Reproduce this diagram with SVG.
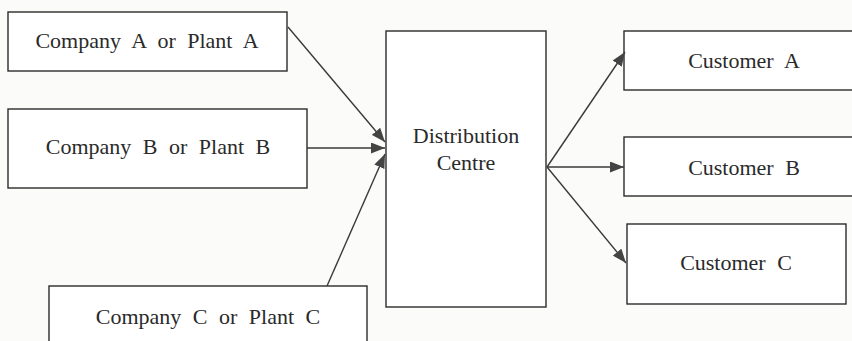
<svg xmlns="http://www.w3.org/2000/svg" width="852" height="341" viewBox="0 0 852 341">
  <style>
    .box { fill: #ffffff; stroke: #2b2b2b; stroke-width: 1.4; }
    .lbl { font-family: "Liberation Serif", "Times New Roman", serif; font-size: 22px; fill: #2a2a2a; text-anchor: middle; word-spacing: 6px; }
    .edge { stroke: #3a3a3a; stroke-width: 1.4; fill: none; marker-end: url(#head); }
  </style>
  <defs>
    <marker id="head" viewBox="0 0 14 11" refX="14" refY="5.5" markerWidth="14" markerHeight="11" markerUnits="userSpaceOnUse" orient="auto">
      <path d="M0,0 L14,5.5 L0,11 Z" fill="#444"/>
    </marker>
  </defs>
  <rect width="852" height="341" fill="#fbfbf9"/>

  <g id="company-a">
    <rect class="box" x="8" y="12" width="279" height="59"/>
    <text class="lbl" x="147" y="48">Company A or Plant A</text>
  </g>
  <g id="company-b">
    <rect class="box" x="8" y="109" width="299" height="79"/>
    <text class="lbl" x="158" y="154">Company B or Plant B</text>
  </g>
  <g id="company-c">
    <rect class="box" x="49" y="286" width="318" height="70"/>
    <text class="lbl" x="208" y="324">Company C or Plant C</text>
  </g>
  <g id="distribution-centre">
    <rect class="box" x="386" y="31" width="160" height="276"/>
    <text class="lbl" x="466" y="143">Distribution</text>
    <text class="lbl" x="466" y="170">Centre</text>
  </g>
  <g id="customer-a">
    <rect class="box" x="624" y="31" width="240" height="59"/>
    <text class="lbl" x="744" y="68">Customer A</text>
  </g>
  <g id="customer-b">
    <rect class="box" x="624" y="137" width="240" height="59"/>
    <text class="lbl" x="744" y="175">Customer B</text>
  </g>
  <g id="customer-c">
    <rect class="box" x="627" y="224" width="219" height="80"/>
    <text class="lbl" x="736" y="270">Customer C</text>
  </g>

  <g id="connectors">
    <line class="edge" x1="288" y1="27" x2="385" y2="142"/>
    <line class="edge" x1="307" y1="148" x2="385" y2="148"/>
    <line class="edge" x1="327" y1="286" x2="385" y2="154"/>
    <line class="edge" x1="547" y1="167" x2="625" y2="52"/>
    <line class="edge" x1="547" y1="167" x2="624" y2="167"/>
    <line class="edge" x1="547" y1="167" x2="626" y2="263"/>
  </g>
</svg>
